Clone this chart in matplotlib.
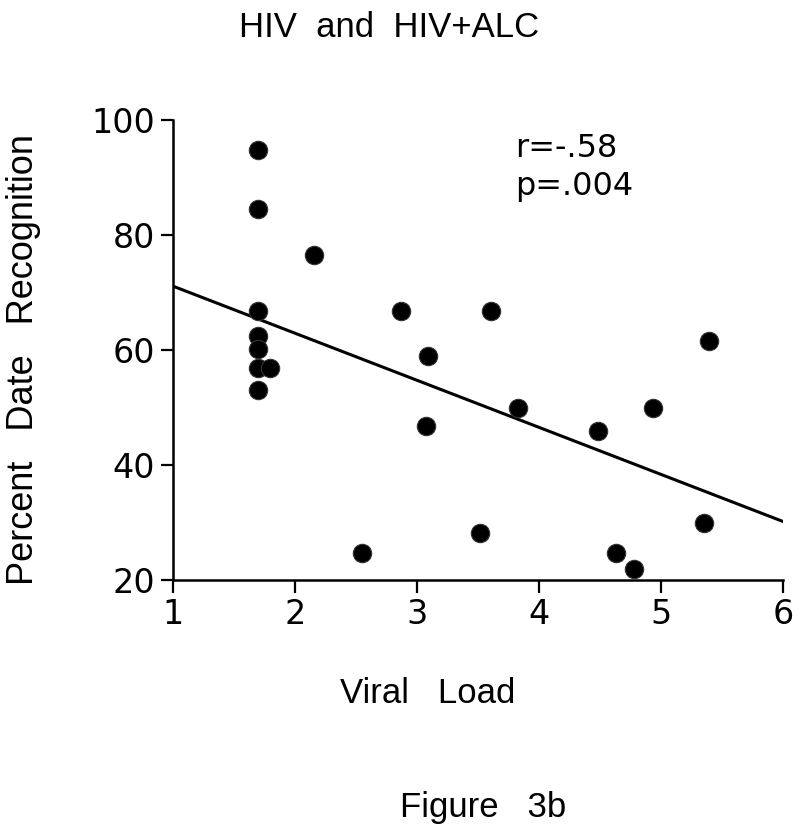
import matplotlib
matplotlib.use("Agg")
import matplotlib.pyplot as plt
import numpy as np

viral_load = [1.70, 1.70, 1.70, 1.70, 1.70, 1.70, 1.80, 1.70, 2.16, 2.55, 2.87,
              3.09, 3.07, 3.52, 3.61, 3.83, 4.48, 4.63, 4.78, 4.93, 5.35, 5.39]
pct_recog = [94.8, 84.5, 66.8, 62.4, 60.2, 56.9, 56.9, 53.0, 76.5, 24.7, 66.8,
             59.0, 46.8, 28.2, 66.8, 49.9, 45.9, 24.7, 21.9, 49.9, 29.9, 61.6]
x_ticks = [1, 2, 3, 4, 5, 6]
y_ticks = [20, 40, 60, 80, 100]

plt.rcParams['font.family'] = ['DejaVu Sans']
fig = plt.figure(figsize=(8, 8.33), dpi=100)
ax = fig.add_axes([0.216, 0.3037, 0.763, 0.5523])

x = np.array(viral_load)
y = np.array(pct_recog)
slope, intercept = np.polyfit(x, y, 1)
xl = np.array([1, 6])
ax.plot(xl, slope * xl + intercept, color='black', lw=2.2, zorder=2)
ax.scatter(x, y, s=175, color='black', edgecolors='#333333', linewidths=0.8, zorder=3)

ax.set_xlim(1, 6)
ax.set_ylim(20, 100)
ax.set_xticks(x_ticks)
ax.set_yticks(y_ticks)
for s in ['top', 'right']:
    ax.spines[s].set_visible(False)
for s in ['left', 'bottom']:
    ax.spines[s].set_linewidth(1.8)
ax.tick_params(width=1.6, length=9, labelsize=24, direction='out', pad=4,
               labelfontfamily='DejaVu Sans')

helv = ['Liberation Sans', 'DejaVu Sans']
dv = ['DejaVu Sans']
fig.text(0.486, 0.9556, 'HIV  and  HIV+ALC', ha='center', va='baseline', fontsize=25, family=helv)
fig.text(0.425, 0.156, 'Viral   Load', ha='left', va='baseline', fontsize=25, family=helv)
fig.text(0.5, 0.0192, 'Figure   3b', ha='left', va='baseline', fontsize=25, family=helv)
fig.text(0.041, 0.568, 'Percent   Date   Recognition', ha='center', va='baseline',
         fontsize=26, rotation=90, rotation_mode='anchor', family=helv)
fig.text(0.644, 0.8115, 'r=-.58', ha='left', va='baseline', fontsize=23, family=dv)
fig.text(0.644, 0.766, 'p=.004', ha='left', va='baseline', fontsize=23, family=dv)

fig.savefig('out.png', dpi=100)
